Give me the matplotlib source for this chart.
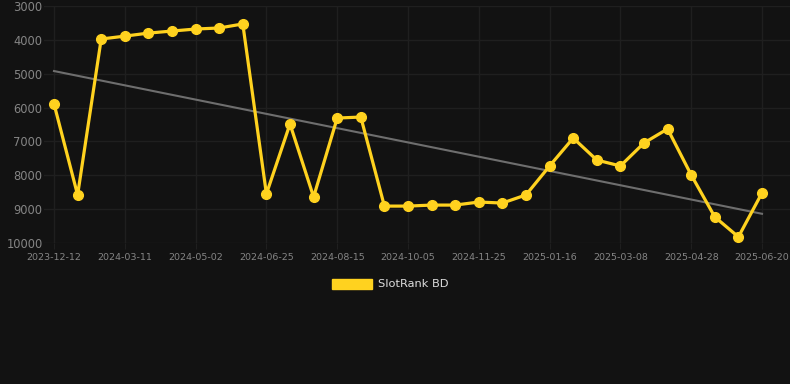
import numpy as np
import matplotlib.pyplot as plt
from matplotlib.patches import Patch

# ---------------------------
# Data
# ---------------------------
tick_labels = [
    "2023-12-12", "2024-03-11", "2024-05-02", "2024-06-25", "2024-08-15",
    "2024-10-05", "2024-11-25", "2025-01-16", "2025-03-08", "2025-04-28",
    "2025-06-20",
]
rank = [
    5890, 8580, 3975, 3890, 3800, 3740, 3680, 3650, 3530, 8550,
    6485, 8640, 6310, 6280, 8910, 8910, 8880, 8880, 8790, 8820,
    8580, 7725, 6900, 7550, 7725, 7045, 6630, 7990, 9230, 9820,
    8520,
]
series_name = "SlotRank BD"

BG = "#121212"
GOLD = "#FFD21F"
GRID = "#1f1f1f"
TXT = "#858585"

x = np.arange(len(rank))
y = np.array(rank, dtype=float)

# linear trend of the series
slope, intercept = np.polyfit(x, y, 1)
trend = slope * x + intercept

fig = plt.figure(figsize=(7.9, 3.84), dpi=100, facecolor=BG)
ax = fig.add_axes([44 / 790, 1 - 243 / 384, (790 - 44) / 790, (243 - 6) / 384])
ax.set_facecolor(BG)

ax.plot(x, trend, color="#6e6e6e", lw=1.5, zorder=2)
ax.plot(x, y, color=GOLD, lw=2.3, marker="o", ms=7, zorder=3)

step = 23.6
ax.set_xlim(-10 / step, len(rank) - 1 + 28 / step)
ax.set_ylim(10000, 3000)
ax.set_yticks(range(3000, 10001, 1000))
ax.set_xticks(x[::3])
ax.set_xticklabels(tick_labels)

ax.grid(True, color=GRID, lw=1)
for s in ax.spines.values():
    s.set_visible(False)
ax.tick_params(axis="y", length=0, pad=1, labelsize=8.3, labelcolor=TXT)
ax.tick_params(axis="x", length=4, color=GRID, pad=3.5, labelsize=6.8, labelcolor=TXT)

fig.legend(
    handles=[Patch(facecolor=GOLD, edgecolor=GOLD)],
    labels=[series_name],
    loc="center",
    bbox_to_anchor=(390 / 790, 1 - 284 / 384),
    frameon=False,
    handlelength=3.5,
    handleheight=1.0,
    handletextpad=0.55,
    fontsize=8.2,
    labelcolor="#dddddd",
)

fig.savefig("out.png", dpi=100, facecolor=BG)
